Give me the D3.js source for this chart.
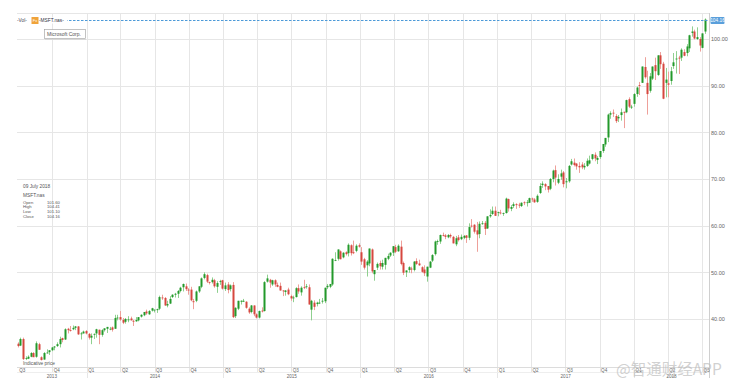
<!DOCTYPE html>
<html>
<head>
<meta charset="utf-8">
<script src="https://cdn.jsdelivr.net/npm/d3@7"></script>
<style>
  body { margin: 0; background: #fff; }
  svg { display: block; font-family: "Liberation Sans", Arial, sans-serif; }
</style>
</head>
<body>
<div id="chart"></div>
<script>
// weekly candles, [open, high, low, close], one array per year
const firstMonday = {2013: "2013-07-01", 2014: "2014-01-06", 2015: "2015-01-05", 2016: "2016-01-04", 2017: "2017-01-02", 2018: "2018-01-01"};

const ohlc2013 = [
  [34.7,35.0,33.9,34.2],[34.3,36.0,34.2,35.7],[35.7,36.0,31.2,31.4],[31.6,32.0,31.2,31.6],[31.5,32.2,31.4,31.9],
  [31.9,32.9,31.8,32.7],[32.7,32.9,32.0,31.8],[31.9,35.2,31.7,34.8],[34.6,34.9,33.4,33.4],
  [31.8,32.0,31.1,31.2],[31.3,32.9,31.3,32.7],[32.8,33.5,32.6,32.8],[32.9,33.3,32.3,33.3],[33.3,34.0,33.1,33.9],
  [33.9,34.2,33.3,34.1],[34.2,35.0,34.0,34.6],[34.6,36.2,33.9,35.7],[35.9,36.0,35.0,35.5],
  [35.6,38.0,35.5,37.8],[37.9,38.1,36.9,37.6],[37.6,38.5,37.3,37.5],[37.8,38.6,37.6,38.1],
  [38.1,38.5,37.6,38.4],[38.4,38.5,36.6,36.7],[36.8,37.2,35.6,36.9],[36.9,37.5,36.9,37.3],[37.4,37.6,36.7,36.9]
];
const ohlc2014 = [
  [36.8,37.0,35.6,36.0],[36.0,36.9,34.6,36.4],[36.7,36.9,35.7,36.8],[36.9,37.9,36.0,37.8],
  [37.7,37.7,34.6,36.6],[36.6,37.8,36.2,37.6],[37.6,38.0,37.3,38.0],[37.9,38.3,37.0,38.3],
  [37.9,38.3,37.6,37.9],[38.2,38.4,37.3,37.7],[37.9,40.9,37.9,40.2],[40.3,40.9,39.7,40.3],[40.4,41.7,39.6,39.9],
  [39.8,40.2,38.9,39.2],[39.4,40.2,39.0,40.0],[39.9,40.6,39.3,39.9],[40.1,40.5,39.7,39.7],
  [39.6,39.8,38.5,39.5],[39.5,40.4,39.4,39.8],[39.7,40.4,39.5,40.4],[40.5,41.0,40.3,40.9],
  [40.8,41.5,40.6,41.5],[41.6,42.0,40.9,41.2],[41.0,41.9,40.9,41.7],[41.8,42.4,41.6,42.3],[41.9,42.0,41.4,42.0],
  [41.9,42.2,41.3,42.1],[42.2,45.0,41.9,44.7],[44.6,45.2,44.1,44.5],[44.5,44.7,42.8,42.9],
  [42.9,43.9,42.5,43.2],[43.3,44.9,43.2,44.3],[44.7,45.3,44.5,45.2],[45.2,45.6,44.6,45.4],
  [45.4,46.2,44.5,46.0],[46.0,46.9,45.7,46.7],[46.8,47.6,45.9,47.5],[47.0,47.6,46.0,46.4],[46.3,46.6,45.2,46.1],
  [46.3,46.9,43.8,44.0],[43.8,44.3,42.1,43.6],[43.9,46.1,43.6,45.9],[45.9,47.0,45.6,47.0],
  [46.9,48.9,46.6,48.7],[48.8,50.0,48.5,49.6],[49.4,49.7,47.7,48.0],[47.9,48.0,47.4,47.8],
  [47.9,48.9,47.6,48.4],[48.3,48.6,46.7,47.0],[46.9,48.1,45.6,47.7],[48.0,48.4,47.3,48.1],[48.3,48.4,46.3,46.5]
];
const ohlc2015 = [
  [46.4,47.8,46.0,47.2],[47.4,47.9,45.5,46.2],[46.4,47.4,45.9,47.2],[47.3,47.9,40.2,40.4],
  [40.6,42.5,40.2,42.4],[42.2,43.9,41.9,43.9],[43.7,44.0,43.1,43.9],[43.7,44.3,43.7,43.9],
  [43.7,43.8,42.2,42.4],[42.2,42.5,41.1,41.4],[41.5,43.0,41.2,42.9],[42.9,42.9,40.6,41.0],[41.0,41.2,40.1,40.3],
  [40.3,41.8,40.1,41.7],[41.8,42.5,41.4,41.6],[41.7,48.1,41.6,47.9],[48.0,49.5,47.8,48.7],
  [48.4,48.6,46.7,47.8],[47.4,48.4,47.1,48.3],[48.3,48.5,46.9,47.4],[47.3,47.8,46.8,46.9],
  [47.1,47.8,46.1,46.1],[46.1,46.2,44.9,46.0],[45.8,46.2,45.0,46.1],[46.3,46.7,45.1,45.3],[44.9,45.2,43.9,44.4],
  [44.5,45.0,43.6,44.6],[44.7,46.8,44.6,46.6],[46.6,47.4,45.4,45.9],[45.7,47.0,45.0,46.7],
  [46.8,48.4,46.4,46.7],[46.9,47.5,46.5,47.0],[46.8,47.4,43.1,43.1],[42.0,44.1,39.7,43.9],[43.5,44.0,41.9,42.6],
  [43.2,43.7,42.7,43.5],[43.4,44.3,43.2,43.5],[43.8,44.5,43.3,43.9],[43.8,46.7,43.4,46.7],
  [46.8,47.5,46.4,47.1],[46.9,47.5,46.6,47.5],[47.4,53.0,47.1,52.9],[52.5,54.3,52.4,52.6],
  [52.9,54.9,52.5,54.9],[54.5,54.7,52.8,52.8],[53.2,54.3,53.0,54.2],[54.3,54.5,53.6,53.9],[54.1,56.2,53.4,55.9],
  [55.8,56.0,53.6,54.1],[54.3,56.8,53.9,54.1],[54.6,56.0,54.3,55.7],[55.8,56.2,55.3,55.5]
];
const ohlc2016 = [
  [54.3,55.4,51.6,52.3],[52.8,53.1,50.6,51.0],[51.5,52.6,49.1,52.3],[51.9,55.1,51.3,55.1],
  [54.9,55.1,49.8,50.2],[49.6,50.3,48.2,50.5],[51.0,52.1,50.5,51.8],[52.0,52.5,50.6,51.3],[51.2,52.7,50.6,52.0],
  [51.6,53.1,50.6,53.1],[52.9,54.0,52.6,53.5],[53.6,54.3,53.3,54.2],[54.2,55.6,53.5,55.6],
  [55.4,55.9,54.1,54.4],[54.5,56.0,54.4,55.7],[55.5,56.8,51.5,51.8],[52.0,52.3,49.4,49.9],
  [50.0,50.4,49.0,50.4],[50.5,51.3,49.9,51.1],[50.8,51.2,49.8,50.6],[50.5,52.4,50.2,52.3],[52.4,53.0,51.6,51.8],
  [51.9,52.7,51.4,51.5],[51.1,51.3,49.9,50.1],[50.6,51.5,49.2,49.8],[49.1,51.2,48.0,51.2],
  [51.0,52.4,50.9,52.3],[52.5,53.9,52.2,53.7],[53.9,56.8,53.6,56.6],[56.5,57.0,55.9,56.7],
  [56.6,58.1,56.1,58.0],[58.0,58.5,57.7,57.9],[57.9,58.2,57.1,57.6],[57.5,58.2,57.3,58.0],[58.0,58.3,57.3,57.7],
  [57.6,57.8,56.2,56.2],[56.0,57.8,55.6,57.3],[57.5,58.0,56.6,56.9],[57.1,58.1,56.9,57.6],
  [57.4,58.0,57.1,57.8],[57.9,58.0,56.3,57.4],[57.4,60.5,56.9,59.7],[60.0,61.4,59.6,59.9],[60.2,60.3,58.3,58.7],
  [59.0,60.8,54.4,58.1],[58.2,60.9,57.3,60.4],[60.4,61.0,60.2,60.5],[60.6,61.0,58.0,59.3],
  [59.4,62.0,59.3,62.0],[62.0,63.5,61.7,62.3],[62.5,64.1,62.3,63.2],[63.2,64.1,62.1,62.1]
];
const ohlc2017 = [
  [62.8,63.0,62.0,62.9],[62.8,63.4,62.4,62.7],[62.7,62.8,62.1,62.7],[62.7,66.0,62.6,65.8],[65.7,65.8,63.0,63.7],
  [63.6,64.4,63.1,64.0],[64.2,65.0,63.8,64.6],[64.6,64.8,63.6,64.4],[64.5,64.9,63.8,64.3],
  [64.2,65.0,64.0,64.9],[65.0,65.2,64.4,64.9],[64.9,65.5,64.1,65.0],[64.9,66.0,64.9,65.9],
  [65.8,66.0,65.1,65.7],[65.6,65.9,64.9,65.0],[65.1,66.7,64.9,66.4],[67.0,69.1,66.8,68.5],
  [68.7,69.5,68.1,69.0],[68.9,69.1,67.6,68.4],[68.5,68.5,67.1,67.7],[67.9,70.2,67.6,70.0],[70.0,72.0,69.3,71.8],
  [71.9,72.9,68.6,70.3],[69.2,71.0,68.9,70.0],[70.5,72.0,69.8,71.2],[71.4,71.7,68.2,68.9],
  [69.3,70.2,68.0,69.5],[69.5,73.0,69.2,72.8],[73.1,74.3,72.9,73.8],[73.5,74.4,72.7,73.0],[73.3,73.4,72.0,72.7],
  [72.8,73.6,71.3,72.5],[73.1,73.6,72.1,72.5],[72.5,73.4,72.0,72.8],[72.8,74.4,72.6,73.9],
  [73.3,75.0,73.1,74.0],[74.3,75.3,74.0,75.3],[75.2,75.7,73.8,74.4],[74.1,74.9,73.2,74.5],
  [74.7,76.0,74.3,76.0],[76.0,77.5,75.6,77.5],[77.4,78.8,76.9,78.8],[78.9,84.0,77.9,83.8],[83.8,84.5,82.9,84.1],
  [84.2,84.9,83.3,84.1],[83.5,83.9,82.0,82.4],[83.0,83.7,82.2,83.3],[83.7,85.1,82.5,84.3],
  [84.4,84.4,80.9,84.2],[84.3,87.0,84.1,86.9],[87.1,87.5,85.2,85.5],[85.3,85.9,85.0,85.5]
];
const ohlc2018 = [
  [86.1,88.4,85.5,88.2],[88.2,89.8,87.6,89.6],[90.1,90.8,88.0,90.0],[90.6,94.1,90.6,94.1],[94.0,96.1,91.5,91.8],
  [90.6,93.2,83.8,88.2],[88.9,92.7,88.5,92.0],[91.5,94.1,91.2,94.1],[94.4,96.0,91.2,93.1],
  [92.3,96.5,92.1,96.5],[96.5,97.2,93.6,94.6],[94.7,95.1,87.1,87.2],[90.6,93.8,87.5,91.3],
  [90.5,93.0,87.5,90.2],[91.0,94.0,90.2,93.1],[94.2,97.0,93.6,95.0],[95.8,97.4,92.6,95.8],[96.0,96.4,92.5,95.8],
  [96.0,98.0,95.3,97.7],[97.2,97.8,96.3,96.4],[97.0,98.9,96.3,98.4],[98.0,100.9,97.2,100.8],
  [101.3,102.7,100.5,101.6],[101.6,102.0,99.9,100.1],[100.0,102.5,99.8,100.4],[100.0,100.4,97.3,98.6],
  [98.1,101.2,98.0,101.2],[101.6,104.41,101.1,104.16]
];
const years = [2013, 2014, 2015, 2016, 2017, 2018];
const yearData = [ohlc2013, ohlc2014, ohlc2015, ohlc2016, ohlc2017, ohlc2018];

const priceTicks = [40, 50, 60, 70, 80, 90, 100];
const lastPrice = 104.16;
const infoDate = "09 July 2018";
const infoLabels = ["Open", "High", "Low", "Close"];
const infoValues = ["101.60", "104.41", "101.10", "104.16"];

const width = 735, height = 386;
const m = {left: 17, right: 709, top: 13, bottom: 367};

const svg = d3.select("#chart").append("svg")
    .attr("width", width)
    .attr("height", height);

const x = d3.scaleTime()
    .domain([new Date(2013, 5, 29), new Date(2018, 6, 20)])
    .range([m.left, m.right]);
const y = d3.scaleLinear()
    .domain([29.71, 105.57])
    .range([m.bottom, m.top]);

const parse = d3.timeParse("%Y-%m-%d");
let candles = [];
years.forEach((yr, k) => {
    const start = parse(firstMonday[yr]);
    yearData[k].forEach((v, i) => {
        candles.push({date: d3.timeMonday.offset(start, i), o: v[0], h: v[1], l: v[2], c: v[3]});
    });
});

// grid
const quarters = d3.timeMonth.every(3).range(new Date(2013, 9, 1), new Date(2018, 6, 2));
svg.append("g").selectAll("line").data(quarters).join("line")
    .attr("x1", d => Math.round(x(d)) + 0.5).attr("x2", d => Math.round(x(d)) + 0.5)
    .attr("y1", m.top).attr("y2", d => d.getMonth() === 0 ? 378 : 372)
    .attr("stroke", "#e6e6e6").attr("stroke-width", 1);

svg.append("g").selectAll("line").data(priceTicks).join("line")
    .attr("x1", m.left).attr("x2", m.right)
    .attr("y1", d => Math.round(y(d)) + 0.5).attr("y2", d => Math.round(y(d)) + 0.5)
    .attr("stroke", "#e6e6e6");

svg.append("line").attr("x1", m.left).attr("x2", m.right).attr("y1", m.top + 0.5).attr("y2", m.top + 0.5).attr("stroke", "#e6e6e6");
svg.append("line").attr("x1", m.left).attr("x2", m.right).attr("y1", m.bottom + 0.5).attr("y2", m.bottom + 0.5).attr("stroke", "#dcdcdc");
svg.append("line").attr("x1", m.left).attr("x2", m.right).attr("y1", 372.5).attr("y2", 372.5).attr("stroke", "#eeeeee");
svg.append("line").attr("x1", m.right + 0.5).attr("x2", m.right + 0.5).attr("y1", m.top).attr("y2", 378).attr("stroke", "#cfcfcf");

// right axis
const yAxis = svg.append("g")
    .attr("transform", `translate(${m.right},0)`)
    .call(d3.axisRight(y).tickValues(priceTicks).tickSize(0).tickPadding(2).tickFormat(d3.format(".2f")));
yAxis.select(".domain").remove();
yAxis.selectAll("text").attr("font-size", 5.5).attr("fill", "#666").attr("font-family", "Liberation Sans, Arial");

// quarter labels
svg.append("g").selectAll("text").data([new Date(2013, 6, 1)].concat(quarters)).join("text")
    .attr("x", d => Math.max(x(d), m.left) + 1.5)
    .attr("y", 371.5)
    .attr("font-size", 4.6).attr("fill", "#666")
    .text(d => "Q" + (Math.floor(d.getMonth() / 3) + 1));

// year labels, centred on the visible part of each year
svg.append("g").selectAll("text").data(years).join("text")
    .attr("x", yr => (Math.max(x(new Date(yr, 0, 1)), m.left) + Math.min(x(new Date(yr + 1, 0, 1)), m.right)) / 2)
    .attr("y", 378)
    .attr("text-anchor", "middle")
    .attr("font-size", 4.6).attr("fill", "#666")
    .text(d => d);

// candles
const bw = 2;
const g = svg.append("g");
g.selectAll("line").data(candles).join("line")
    .attr("x1", d => Math.round(x(d.date)) + 0.5).attr("x2", d => Math.round(x(d.date)) + 0.5)
    .attr("y1", d => y(d.h)).attr("y2", d => y(d.l))
    .attr("stroke", d => d.c >= d.o ? "#8fd08f" : "#eea09a")
    .attr("stroke-width", 1);
g.selectAll("rect").data(candles).join("rect")
    .attr("x", d => Math.round(x(d.date)) + 0.5 - bw / 2)
    .attr("width", bw)
    .attr("y", d => y(Math.max(d.o, d.c)))
    .attr("height", d => Math.max(0.8, Math.abs(y(d.o) - y(d.c))))
    .attr("fill", d => d.c >= d.o ? "#23992b" : "#d6473f");

// last price line and tag
const yLast = Math.round(y(lastPrice)) + 0.5;
svg.append("line")
    .attr("x1", m.left).attr("x2", m.right)
    .attr("y1", yLast).attr("y2", yLast)
    .attr("stroke", "#4d9ad8").attr("stroke-width", 1)
    .attr("stroke-dasharray", "2.5,1.5");
svg.append("rect")
    .attr("x", m.right + 1.5).attr("y", yLast - 3.5)
    .attr("width", 14).attr("height", 7).attr("rx", 1)
    .attr("fill", "#5a9fdb");
svg.append("text")
    .attr("x", m.right + 8.5).attr("y", yLast + 1.8)
    .attr("text-anchor", "middle").attr("font-size", 4.8).attr("fill", "#fff")
    .text(lastPrice.toFixed(2));

// top-left legend
svg.append("rect").attr("x", 16).attr("y", yLast - 3).attr("width", 51).attr("height", 6).attr("fill", "#fff");
svg.append("text").attr("x", 17).attr("y", yLast + 1.8).attr("font-size", 4.8).attr("fill", "#445").text("-Vol-");
svg.append("rect").attr("x", 31.5).attr("y", yLast - 3.5).attr("width", 7).attr("height", 7).attr("fill", "#f0a33a");
svg.append("text").attr("x", 35).attr("y", yLast + 1.6).attr("text-anchor", "middle").attr("font-size", 4).attr("fill", "#fff").text("Fx");
svg.append("text").attr("x", 39).attr("y", yLast + 1.8).attr("font-size", 4.8).attr("fill", "#334").text("-MSFT.nas-");

// company tag
svg.append("rect").attr("x", 44.5).attr("y", 29.5).attr("width", 41).attr("height", 9)
    .attr("fill", "#fff").attr("stroke", "#9a9a9a").attr("stroke-width", 0.6);
svg.append("line").attr("x1", 45).attr("x2", 86).attr("y1", 39.2).attr("y2", 39.2).attr("stroke", "#ccc").attr("stroke-width", 0.8);
svg.append("text").attr("x", 47).attr("y", 36).attr("font-size", 5).attr("fill", "#555").text("Microsoft Corp.");

// info panel
svg.append("text").attr("x", 23).attr("y", 188).attr("font-size", 4.8).attr("fill", "#555").text(infoDate);
svg.append("text").attr("x", 23).attr("y", 196.5).attr("font-size", 4.8).attr("fill", "#555").text("MSFT.nas");
infoLabels.forEach((lab, i) => {
    svg.append("text").attr("x", 23).attr("y", 203.5 + i * 4.8).attr("font-size", 4.2).attr("fill", "#555").text(lab);
    svg.append("text").attr("x", 47).attr("y", 203.5 + i * 4.8).attr("font-size", 4.2).attr("fill", "#555").text(infoValues[i]);
});

svg.append("text").attr("x", 23).attr("y", 365).attr("font-size", 4.8).attr("fill", "#555").text("Indicative price");

// watermark
svg.append("text")
    .attr("x", 616).attr("y", 375)
    .attr("font-size", 15.5)
    .attr("font-family", "Noto Sans CJK SC, sans-serif")
    .attr("fill", "#bdbdbd").attr("fill-opacity", 0.7)
    .text("@智通财经APP");
</script>
</body>
</html>
